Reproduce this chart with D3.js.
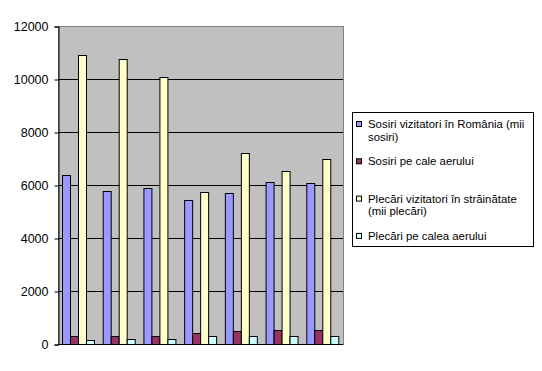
<!DOCTYPE html>
<html>
<head>
<meta charset="utf-8">
<script src="https://cdn.jsdelivr.net/npm/d3@7"></script>
<style>
  body { margin: 0; background: #fff; }
  svg { display: block; font-family: "Liberation Sans", Arial, sans-serif; }
  .legend text { font-size: 11.4px; fill: #000; }
</style>
</head>
<body>
<svg id="chart" width="542" height="371"></svg>
<script>
// categories have no visible labels in the chart
const categories = ['1', '2', '3', '4', '5', '6', '7'];

const seriesNames = [
  ['Sosiri vizitatori în România (mii', 'sosiri)'],
  ['Sosiri pe cale aerului'],
  ['Plecări vizitatori în străinătate', '(mii plecări)'],
  ['Plecări pe calea aerului']
];

const sosiriVizitatori = [6380, 5770, 5890, 5430, 5700, 6110, 6070];
const sosiriAer = [300, 300, 300, 420, 490, 530, 530];
const plecariVizitatori = [10900, 10750, 10080, 5740, 7210, 6530, 6980];
const plecariAer = [150, 190, 190, 300, 300, 300, 300];

const yTicks = [0, 2000, 4000, 6000, 8000, 10000, 12000];

const colors = ['#9999ff', '#993366', '#ffffcc', '#ccffff'];
const series = [sosiriVizitatori, sosiriAer, plecariVizitatori, plecariAer];

const plot = { left: 58, top: 26, right: 343, bottom: 344 };

const svg = d3.select('#chart');

const x0 = d3.scaleBand(categories, [plot.left, plot.right]);
const x1 = d3.scaleBand(d3.range(series.length), [0, x0.bandwidth()])
             .paddingOuter(0.55);
const y = d3.scaleLinear([0, 12000], [plot.bottom, plot.top]);

// plot area
svg.append('rect')
   .attr('x', plot.left + 0.5)
   .attr('y', plot.top + 0.5)
   .attr('width', plot.right - plot.left)
   .attr('height', plot.bottom - plot.top)
   .attr('fill', '#c0c0c0')
   .attr('stroke', '#808080');

// gridlines
svg.append('g')
   .selectAll('line')
   .data(yTicks.filter(d => d > 0 && d < 12000))
   .join('line')
   .attr('x1', plot.left)
   .attr('x2', plot.right)
   .attr('y1', d => Math.round(y(d)) + 0.5)
   .attr('y2', d => Math.round(y(d)) + 0.5)
   .attr('stroke', '#000');

// bars
const groups = svg.append('g')
  .selectAll('g')
  .data(categories)
  .join('g')
  .attr('transform', d => `translate(${x0(d)},0)`);

groups.selectAll('rect')
  .data((d, i) => series.map((s, k) => ({ k, v: s[i] })))
  .join('rect')
  .attr('x', d => Math.round(x1(d.k)) + 0.5)
  .attr('y', d => Math.round(y(d.v)) + 0.5)
  .attr('width', x1.bandwidth())
  .attr('height', d => Math.round(y(0)) - Math.round(y(d.v)))
  .attr('fill', d => colors[d.k])
  .attr('stroke', '#000');

// axes
const yAxis = d3.axisLeft(y)
  .tickValues(yTicks)
  .tickSize(4)
  .tickPadding(6)
  .tickFormat(d3.format('d'));

svg.append('g')
   .attr('class', 'axis')
   .attr('transform', `translate(${plot.left + 0.5},0.5)`)
   .call(yAxis)
   .attr('font-size', 12.5)
   .attr('font-family', '"Liberation Sans", Arial, sans-serif')
   .call(g => g.select('.domain').attr('stroke', '#000'))
   .call(g => g.selectAll('text').attr('fill', '#000'));

svg.append('line')
   .attr('x1', plot.left)
   .attr('x2', plot.right)
   .attr('y1', plot.bottom + 0.5)
   .attr('y2', plot.bottom + 0.5)
   .attr('stroke', '#000');

// legend
const legend = svg.append('g').attr('class', 'legend');
legend.append('rect')
      .attr('x', 352.5)
      .attr('y', 112.5)
      .attr('width', 181)
      .attr('height', 134)
      .attr('fill', '#fff')
      .attr('stroke', '#000');

const items = legend.selectAll('g.item')
  .data(seriesNames)
  .join('g')
  .attr('class', 'item')
  .attr('transform', (d, i) => `translate(356,${124 + i * 37.3})`);

items.append('rect')
     .attr('x', 0.5)
     .attr('y', -2.5)
     .attr('width', 5)
     .attr('height', 5)
     .attr('fill', (d, i) => colors[i])
     .attr('stroke', '#000');

items.append('text')
     .attr('x', 12)
     .attr('y', 4)
     .selectAll('tspan')
     .data(d => d)
     .join('tspan')
     .attr('x', 12)
     .attr('dy', (d, i) => i === 0 ? 0 : 12.5)
     .text(d => d);
</script>
</body>
</html>
